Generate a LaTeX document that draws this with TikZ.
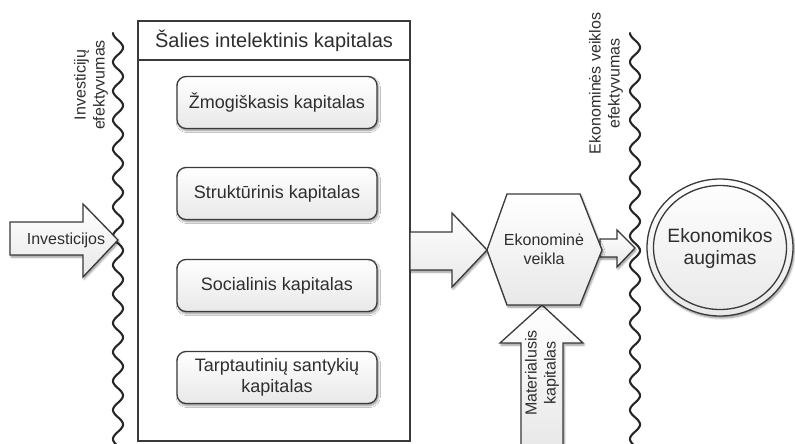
\documentclass[tikz,border=0pt]{standalone}
\usepackage{fontspec}
\setmainfont{Liberation Sans}
\usetikzlibrary{shadows.blur}
\definecolor{ink}{HTML}{3A3A3A}
\definecolor{txt}{HTML}{2E2E2E}
\tikzset{
  soft/.style={top color=white, bottom color=black!9, draw=ink, line width=1.3pt,
    blur shadow={shadow xshift=1.2pt, shadow yshift=-2pt, shadow blur steps=6, shadow opacity=45}},
  subbox/.style={soft, rounded corners=9pt, minimum width=200pt, minimum height=52pt,
    inner sep=0pt, align=center, text=txt, font=\fontsize{18}{21.5}\selectfont},
  lbl/.style={text=txt, align=center, inner sep=0pt, font=\fontsize{16}{19}\selectfont},
  wave/.style={draw=black!85, line width=2.1pt, line cap=round},
  frame/.style={draw=ink, line width=1.5pt}
}
\begin{document}
\begin{tikzpicture}[x=1pt, y=-1pt]
\useasboundingbox (0,0) rectangle (795,444);
\clip (0,0) rectangle (795,444);

% country intellectual capital block
\draw[frame, fill=white] (138,21) rectangle (410,441);
\draw[frame] (138,60) -- (410,60);
\node[text=txt, inner sep=0pt, font=\fontsize{20}{24}\selectfont] (title) at (274,40.5) {Šalies intelektinis kapitalas};

\node[subbox] (zmog) at (277,102.5) {Žmogiškasis kapitalas};
\node[subbox] (strukt) at (277,193.5) {Struktūrinis kapitalas};
\node[subbox] (soc) at (277,285.5) {Socialinis kapitalas};
\node[subbox] (tarpt) at (277,377.5) {Tarptautinių santykių\\kapitalas};

% efficiency boundaries (period 29)
\draw[wave] plot[domain=33:446, samples=500, smooth] ({118-5*cos(12.4138*(\x-33))}, \x);
\draw[wave] plot[domain=33:446, samples=500, smooth] ({635-5*cos(12.4138*(\x-33))}, \x);
\node[lbl, rotate=90] (invef) at (91,85) {Investicijų\\efektyvumas};
\node[lbl, rotate=90] (ekef) at (606,83.5) {Ekonominės veiklos\\efektyvumas};

% investment inflow
\draw[soft] (10,222) -- (83,222) -- (83,204) -- (118,240) -- (83,277) -- (83,255) -- (10,255) -- cycle;
\node[lbl] (inv) at (66,240) {Investicijos};

% capital to economic activity
\draw[soft] (410,232) -- (452,232) -- (452,213) -- (487,250) -- (452,287) -- (452,270) -- (410,270) -- cycle;

% material capital
\draw[soft] (521,448) -- (521,343) -- (500,343) -- (542,305) -- (583,343) -- (563,343) -- (563,448) -- cycle;
\node[lbl, rotate=90] (mat) at (542,373) {Materialusis\\kapitalas};

% activity to growth
\draw[soft] (600,239) -- (617,239) -- (617,230) -- (635,248) -- (617,267) -- (617,257) -- (600,257) -- cycle;

% economic activity
\draw[soft] (487,250) -- (507,194) -- (580,194) -- (602,250) -- (580,305) -- (507,305) -- cycle;
\node[lbl] (veikla) at (544,249.5) {Ekonominė\\veikla};

% economic growth
\draw[soft] (720,247.5) ellipse [x radius=73, y radius=68.5];
\draw[draw=ink, line width=1.3pt] (720,247.5) ellipse [x radius=66.5, y radius=62];
\node[text=txt, align=center, inner sep=0pt, font=\fontsize{19.3}{22}\selectfont] (aug) at (720,249) {Ekonomikos\\augimas};
\end{tikzpicture}
\end{document}
